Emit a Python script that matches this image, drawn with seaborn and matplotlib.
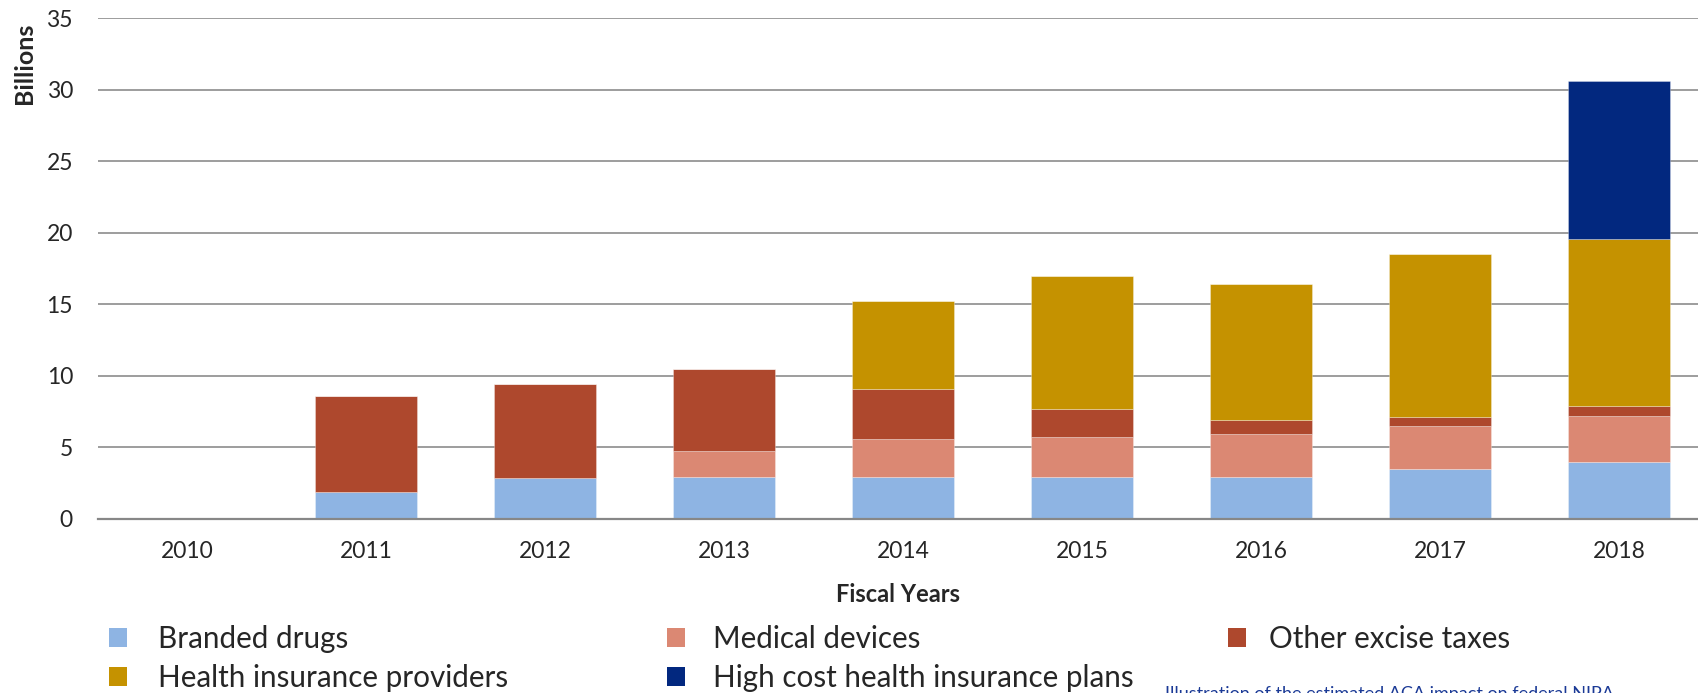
import numpy as np
import matplotlib
matplotlib.use("Agg")
import matplotlib.pyplot as plt
from matplotlib.patches import Patch
import seaborn as sns

# Data (billions)
years = ["2010", "2011", "2012", "2013", "2014", "2015", "2016", "2017", "2018"]
branded_drugs = [0, 1.9, 2.85, 2.95, 2.9, 2.9, 2.9, 3.45, 4.0]
medical_devices = [0, 0, 0, 1.8, 2.7, 2.8, 3.0, 3.05, 3.2]
other_excise = [0, 6.7, 6.6, 5.75, 3.5, 2.0, 1.0, 0.6, 0.7]
health_insurance = [0, 0, 0, 0, 6.1, 9.3, 9.5, 11.4, 11.7]
high_cost_plans = [0, 0, 0, 0, 0, 0, 0, 0, 11.0]

series_names = ["Branded drugs", "Medical devices", "Other excise taxes",
                "Health insurance providers", "High cost health insurance plans"]
series_values = [branded_drugs, medical_devices, other_excise, health_insurance, high_cost_plans]
colors = ["#8EB4E3", "#DB8873", "#AE482D", "#C59200", "#02287F"]

sns.set_style("white")
plt.rcParams["font.family"] = ["Lato", "DejaVu Sans"]

fig = plt.figure(figsize=(16.98, 6.93), dpi=100)
ax = fig.add_axes([98 / 1698, 1 - 518.7 / 693, 1600 / 1698, 500.3 / 693])

# Stacked bars
bottom = np.zeros(len(years))
for name, vals, col in zip(series_names, series_values, colors):
    sns.barplot(x=years, y=vals, bottom=bottom, color=col, saturation=1, width=0.57,
                edgecolor=(1, 1, 1, 0.35), linewidth=0.6, ax=ax, zorder=3)
    bottom = bottom + np.array(vals)

ax.set_ylim(0, 35)
ax.set_yticks(range(0, 36, 5))
ax.set_xlim(-0.5, 8.44)
ax.yaxis.grid(True, color="#8C8C8C", linewidth=1.2, zorder=0)
ax.set_axisbelow(True)
for s in ["left", "right", "top"]:
    ax.spines[s].set_visible(False)
ax.spines["bottom"].set_color("#878787")
ax.spines["bottom"].set_linewidth(1.6)
ax.spines["bottom"].set_zorder(4)
ax.tick_params(axis="y", length=0, pad=18, labelsize=16.5)
ax.tick_params(axis="x", length=0, pad=16, labelsize=16.5)
ax.set_ylabel("")
ax.set_xlabel("")

fig.text(898 / 1698, 1 - 594 / 693, "Fiscal Years", fontsize=17,
         fontweight="bold", ha="center", va="center")
fig.text(24 / 1698, 1 - 63 / 693, "Billions", rotation=90, fontsize=18,
         fontweight="bold", ha="center", va="center")

# Legend in three columns (entries, left edge of square, gap to text)
handles = [Patch(facecolor=c, edgecolor="none") for c in colors]
columns = [([0, 3], 109, 1.05), ([1, 4], 667, 0.95), ([2], 1228, 0.78)]
for idx, xpos, pad in columns:
    fig.legend([handles[i] for i in idx], [series_names[i] for i in idx],
               loc="upper left", bbox_to_anchor=(xpos / 1698, 1 - 625 / 693),
               frameon=False, fontsize=21.3, handlelength=0.61, handleheight=0.61,
               handletextpad=pad, labelspacing=0.38, borderpad=0, borderaxespad=0)

fig.text(1165 / 1698, 1 - 686 / 693,
         "Illustration of the estimated ACA impact on federal NIPA",
         color="#1B3A96", fontsize=13, ha="left", va="top")

fig.savefig("out.png", dpi=100)
